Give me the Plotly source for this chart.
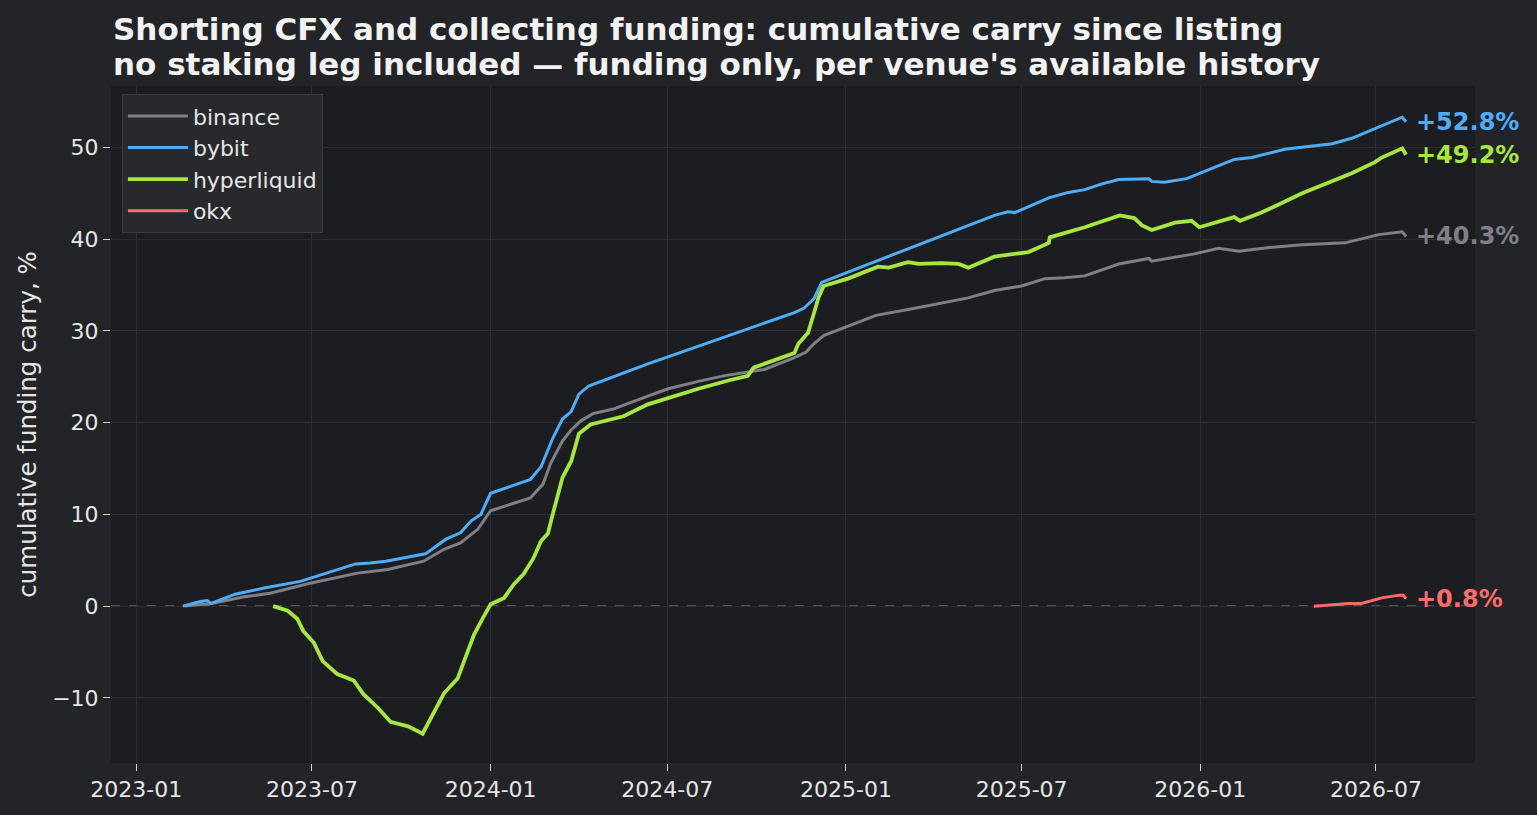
import plotly.graph_objects as go

# cumulative funding carry (%) per venue
binance_dates = [
    "2023-02-20", "2023-03-21", "2023-04-21", "2023-05-19", "2023-06-29", "2023-08-17",
    "2023-09-17", "2023-10-24", "2023-11-14", "2023-12-01", "2023-12-19", "2024-01-01",
    "2024-02-11", "2024-02-24", "2024-03-03", "2024-03-15", "2024-03-24", "2024-04-03",
    "2024-04-16", "2024-05-07", "2024-06-11", "2024-07-02", "2024-08-02", "2024-08-28",
    "2024-10-09", "2024-11-09", "2024-11-21", "2024-11-29", "2024-12-09", "2025-01-03",
    "2025-02-01", "2025-03-09", "2025-04-09", "2025-05-07", "2025-06-03", "2025-07-01",
    "2025-07-25", "2025-08-14", "2025-09-04", "2025-10-09", "2025-11-09", "2025-11-12",
    "2025-12-26", "2026-01-20", "2026-02-10", "2026-03-13", "2026-04-16", "2026-05-30",
    "2026-07-04", "2026-07-28", "2026-08-01",
]
binance_vals = [
    0.0, 0.3, 1.0, 1.4, 2.5, 3.6,
    4.0, 4.9, 6.2, 6.9, 8.4, 10.4,
    11.8, 13.3, 15.6, 18.0, 19.2, 20.2,
    21.0, 21.5, 22.9, 23.7, 24.5, 25.1,
    25.8, 27.1, 27.7, 28.6, 29.5, 30.5,
    31.7, 32.4, 33.0, 33.6, 34.4, 34.9,
    35.7, 35.8, 36.0, 37.3, 37.9, 37.6,
    38.4, 39.0, 38.7, 39.1, 39.4, 39.6,
    40.5, 40.8, 40.3,
]

bybit_dates = [
    "2023-02-18", "2023-03-08", "2023-03-15", "2023-03-19", "2023-04-13", "2023-05-14",
    "2023-06-19", "2023-08-15", "2023-08-30", "2023-09-15", "2023-10-26", "2023-11-16",
    "2023-12-01", "2023-12-12", "2023-12-22", "2024-01-01", "2024-02-11", "2024-02-22",
    "2024-03-05", "2024-03-15", "2024-03-24", "2024-04-01", "2024-04-11", "2024-05-04",
    "2024-06-11", "2024-11-09", "2024-11-19", "2024-11-29", "2024-12-07", "2025-06-03",
    "2025-06-17", "2025-06-24", "2025-07-29", "2025-08-18", "2025-09-04", "2025-09-21",
    "2025-10-09", "2025-11-09", "2025-11-12", "2025-11-25", "2025-12-18", "2026-02-05",
    "2026-02-23", "2026-03-29", "2026-05-03", "2026-05-17", "2026-06-06", "2026-07-28",
    "2026-08-01",
]
bybit_vals = [
    0.0, 0.5, 0.6, 0.3, 1.3, 2.0,
    2.7, 4.6, 4.7, 4.9, 5.7, 7.3,
    8.0, 9.3, 10.0, 12.3, 13.8, 15.2,
    18.3, 20.4, 21.2, 23.1, 24.0, 24.9,
    26.4, 32.0, 32.5, 33.5, 35.3, 42.6,
    43.0, 42.9, 44.5, 45.1, 45.4, 46.0,
    46.5, 46.6, 46.3, 46.2, 46.6, 48.7,
    48.9, 49.8, 50.2, 50.4, 51.0, 53.3,
    52.8,
]

hyperliquid_dates = [
    "2023-05-22", "2023-06-06", "2023-06-16", "2023-06-22", "2023-07-03", "2023-07-12",
    "2023-07-27", "2023-08-13", "2023-08-23", "2023-09-07", "2023-09-20", "2023-10-08",
    "2023-10-23", "2023-11-03", "2023-11-14", "2023-11-28", "2023-12-08", "2023-12-15",
    "2023-12-24", "2024-01-01", "2024-01-15", "2024-01-25", "2024-02-04", "2024-02-14",
    "2024-02-22", "2024-02-29", "2024-03-05", "2024-03-15", "2024-03-24", "2024-04-01",
    "2024-04-13", "2024-05-17", "2024-06-11", "2024-08-02", "2024-09-02", "2024-09-22",
    "2024-09-28", "2024-11-09", "2024-11-13", "2024-11-23", "2024-11-29", "2024-12-04",
    "2024-12-09", "2025-01-03", "2025-02-03", "2025-02-14", "2025-03-06", "2025-03-17",
    "2025-04-09", "2025-04-27", "2025-05-07", "2025-06-03", "2025-07-08", "2025-07-29",
    "2025-07-30", "2025-09-04", "2025-10-10", "2025-10-25", "2025-11-02", "2025-11-12",
    "2025-12-06", "2025-12-23", "2025-12-31", "2026-02-05", "2026-02-11", "2026-03-05",
    "2026-04-16", "2026-06-06", "2026-06-30", "2026-07-07", "2026-07-28", "2026-08-01",
]
hyperliquid_vals = [
    0.0, -0.5, -1.4, -2.7, -4.0, -6.0,
    -7.4, -8.1, -9.6, -11.1, -12.6, -13.1,
    -13.9, -11.8, -9.5, -7.9, -5.2, -3.1,
    -1.3, 0.2, 0.9, 2.4, 3.5, 5.2,
    7.1, 7.9, 10.0, 14.0, 15.8, 18.8,
    19.8, 20.7, 22.0, 23.7, 24.6, 25.1,
    26.0, 27.6, 28.6, 29.8, 31.9, 33.7,
    34.9, 35.7, 37.0, 36.9, 37.5, 37.3,
    37.4, 37.3, 36.9, 38.1, 38.6, 39.6,
    40.2, 41.3, 42.6, 42.3, 41.5, 41.0,
    41.8, 42.0, 41.3, 42.4, 42.0, 42.9,
    45.0, 47.2, 48.4, 48.9, 49.9, 49.2,
]

okx_dates = ["2026-04-28", "2026-06-03", "2026-06-16", "2026-07-07", "2026-07-25", "2026-07-29", "2026-08-01"]
okx_vals = [0.0, 0.3, 0.3, 0.9, 1.2, 1.2, 0.8]

title_lines = [
    "Shorting CFX and collecting funding: cumulative carry since listing",
    "no staking leg included — funding only, per venue's available history",
]

venues = ["binance", "bybit", "hyperliquid", "okx"]
series = {
    "binance": (binance_dates, binance_vals),
    "bybit": (bybit_dates, bybit_vals),
    "hyperliquid": (hyperliquid_dates, hyperliquid_vals),
    "okx": (okx_dates, okx_vals),
}
colors = {"binance": "#7f8087", "bybit": "#4fadf8", "hyperliquid": "#a6e640", "okx": "#ff6b6b"}
widths = {"binance": 3.0, "bybit": 3.0, "hyperliquid": 3.8, "okx": 3.0}

FONT = "DejaVu Sans"
TXT = "#e6e6e6"

fig = go.Figure()
for v in venues:
    x, y = series[v]
    fig.add_trace(go.Scatter(
        x=x, y=y, mode="lines", name=v,
        line=dict(color=colors[v], width=widths[v]),
    ))
    # end-of-series label
    fig.add_annotation(
        x=x[-1], y=y[-1], text=f"<b>{y[-1]:+.1f}%</b>",
        xanchor="left", yanchor="middle", xshift=8, showarrow=False,
        font=dict(family=FONT, size=24, color=colors[v]),
    )

# two-line bold title, placed above the plot area
for line, shift in zip(title_lines, [57, 22]):
    fig.add_annotation(
        xref="paper", yref="paper", x=0, y=1, xanchor="left", yanchor="middle",
        yshift=shift, showarrow=False, text=f"<b>{line}</b>",
        font=dict(family=FONT, size=31, color="#f2f2f2"),
    )

# zero reference line
fig.add_shape(type="line", xref="paper", x0=0, x1=1, yref="y", y0=0, y1=0,
              line=dict(color="#8a8a8e", width=1.4, dash="dash"), layer="below")

fig.update_layout(
    width=1537, height=815,
    margin=dict(l=111, r=62, t=86, b=52),
    paper_bgcolor="#232428",
    plot_bgcolor="#1c1d21",
    font=dict(family=FONT, size=22, color=TXT),
    legend=dict(
        x=0.008, y=0.988, xanchor="left", yanchor="top",
        bgcolor="#28292d", bordercolor="#3b3c41", borderwidth=1,
        font=dict(family=FONT, size=22, color=TXT),
        tracegroupgap=1, itemwidth=60,
    ),
    showlegend=True,
)
fig.update_xaxes(
    range=["2022-12-06", "2026-10-11"],
    tick0="2023-01-01", dtick="M6", tickformat="%Y-%m",
    showgrid=True, gridcolor="#2d2e33", gridwidth=1,
    ticks="outside", ticklen=7, tickcolor="#d0d0d0", tickwidth=1.4,
    showline=False, zeroline=False,
    tickfont=dict(family=FONT, size=22, color=TXT),
)
fig.update_yaxes(
    range=[-17.1, 56.7], dtick=10,
    showgrid=True, gridcolor="#2d2e33", gridwidth=1,
    ticks="outside", ticklen=7, tickcolor="#d0d0d0", tickwidth=1.4,
    showline=False, zeroline=False,
    tickfont=dict(family=FONT, size=22, color=TXT),
    title=dict(text="cumulative funding carry, %", standoff=8,
               font=dict(family=FONT, size=24.5, color=TXT)),
)

fig.write_html("out.html", config={"displayModeBar": False},
               post_script="document.body.style.margin='0';")
